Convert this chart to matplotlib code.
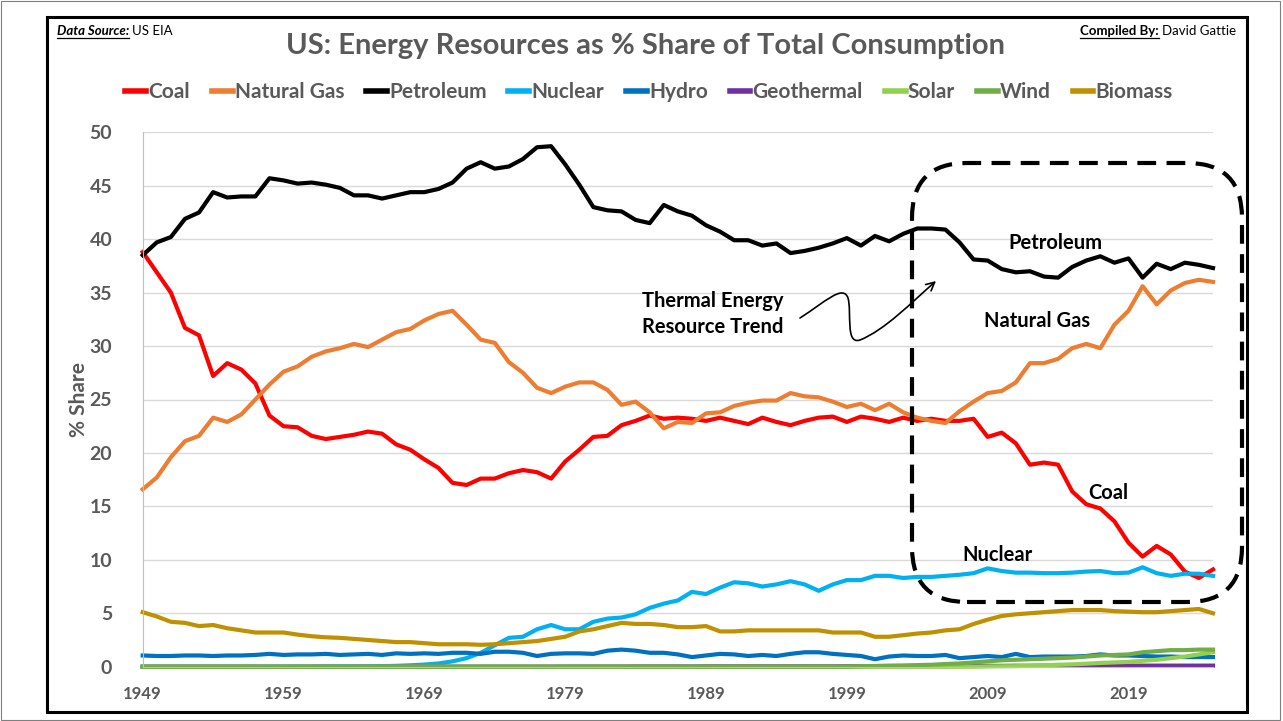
import matplotlib.pyplot as plt
import matplotlib.patches as mpatches
from matplotlib.lines import Line2D
from matplotlib.path import Path
from matplotlib.transforms import IdentityTransform

plt.rcParams['font.family'] = ['Lato', 'DejaVu Sans']

years = list(range(1949, 2026))

coal = [38.8, 36.9, 35.0, 31.7, 31.0, 27.2, 28.4, 27.8, 26.5, 23.5,
        22.5, 22.4, 21.6, 21.3, 21.5, 21.7, 22.0, 21.8, 20.8, 20.3,
        19.4, 18.6, 17.2, 17.0, 17.6, 17.6, 18.1, 18.4, 18.2, 17.6,
        19.2, 20.3, 21.5, 21.6, 22.6, 23.0, 23.5, 23.2, 23.3, 23.2,
        23.0, 23.3, 23.0, 22.7, 23.3, 22.9, 22.6, 23.0, 23.3, 23.4,
        22.9, 23.4, 23.2, 22.9, 23.3, 23.0, 23.2, 23.0, 23.0, 23.2,
        21.5, 21.9, 20.9, 18.9, 19.1, 18.9, 16.4, 15.2, 14.8, 13.6,
        11.6, 10.3, 11.3, 10.5, 8.9, 8.3, 9.1]

natural_gas = [16.6, 17.7, 19.6, 21.1, 21.6, 23.3, 22.9, 23.6, 25.0, 26.4,
               27.6, 28.1, 29.0, 29.5, 29.8, 30.2, 29.9, 30.6, 31.3, 31.6,
               32.4, 33.0, 33.3, 32.0, 30.6, 30.3, 28.5, 27.5, 26.1, 25.6,
               26.2, 26.6, 26.6, 25.9, 24.5, 24.8, 23.8, 22.3, 22.9, 22.8,
               23.7, 23.8, 24.4, 24.7, 24.9, 24.9, 25.6, 25.3, 25.2, 24.8,
               24.3, 24.6, 24.0, 24.6, 23.8, 23.3, 23.0, 22.8, 23.9, 24.8,
               25.6, 25.8, 26.6, 28.4, 28.4, 28.8, 29.8, 30.2, 29.8, 32.0,
               33.3, 35.6, 33.9, 35.2, 35.9, 36.2, 36.0]

petroleum = [38.5, 39.7, 40.2, 41.9, 42.5, 44.4, 43.9, 44.0, 44.0, 45.7,
             45.5, 45.2, 45.3, 45.1, 44.8, 44.1, 44.1, 43.8, 44.1, 44.4,
             44.4, 44.7, 45.3, 46.6, 47.2, 46.6, 46.8, 47.5, 48.6, 48.7,
             47.0, 45.1, 43.0, 42.7, 42.6, 41.8, 41.5, 43.2, 42.6, 42.2,
             41.3, 40.7, 39.9, 39.9, 39.4, 39.6, 38.7, 38.9, 39.2, 39.6,
             40.1, 39.4, 40.3, 39.8, 40.5, 41.0, 41.0, 40.9, 39.7, 38.1,
             38.0, 37.2, 36.9, 37.0, 36.5, 36.4, 37.4, 38.0, 38.4, 37.8,
             38.2, 36.4, 37.7, 37.2, 37.8, 37.6, 37.3]

nuclear = [0.0, 0.0, 0.0, 0.0, 0.0, 0.0, 0.0, 0.0, 0.0, 0.0,
           0.0, 0.01, 0.02, 0.02, 0.03, 0.03, 0.04, 0.05, 0.08, 0.13,
           0.2, 0.3, 0.5, 0.8, 1.3, 2.0, 2.7, 2.8, 3.5, 3.9,
           3.5, 3.5, 4.2, 4.5, 4.6, 4.9, 5.5, 5.9, 6.2, 7.0,
           6.8, 7.4, 7.9, 7.8, 7.5, 7.7, 8.0, 7.7, 7.1, 7.7,
           8.1, 8.1, 8.5, 8.5, 8.3, 8.4, 8.4, 8.5, 8.6, 8.75,
           9.2, 8.95, 8.8, 8.8, 8.75, 8.75, 8.8, 8.9, 8.95, 8.75,
           8.8, 9.3, 8.75, 8.5, 8.7, 8.7, 8.5]

hydro = [1.05, 1.0, 1.0, 1.05, 1.05, 1.0, 1.05, 1.05, 1.1, 1.2,
         1.1, 1.15, 1.15, 1.2, 1.1, 1.15, 1.2, 1.1, 1.25, 1.2,
         1.25, 1.2, 1.3, 1.3, 1.2, 1.4, 1.4, 1.3, 1.0, 1.2,
         1.25, 1.25, 1.2, 1.5, 1.6, 1.5, 1.3, 1.3, 1.15, 0.9,
         1.05, 1.2, 1.15, 1.0, 1.1, 1.0, 1.2, 1.35, 1.35, 1.2,
         1.1, 1.0, 0.7, 0.95, 1.05, 1.0, 1.0, 1.1, 0.8, 0.9,
         1.0, 0.9, 1.2, 0.9, 0.95, 0.95, 0.95, 1.0, 1.15, 1.05,
         1.05, 1.0, 0.95, 0.95, 0.9, 0.9, 0.9]

geothermal = [0.0, 0.0, 0.0, 0.0, 0.0, 0.0, 0.0, 0.0, 0.0, 0.0,
              0.0, 0.0, 0.0, 0.0, 0.0, 0.0, 0.0, 0.0, 0.0, 0.0,
              0.01, 0.01, 0.01, 0.01, 0.01, 0.01, 0.01, 0.01, 0.01, 0.01,
              0.02, 0.02, 0.02, 0.02, 0.02, 0.03, 0.03, 0.03, 0.03, 0.03,
              0.04, 0.04, 0.04, 0.04, 0.04, 0.04, 0.04, 0.04, 0.04, 0.04,
              0.05, 0.05, 0.05, 0.05, 0.05, 0.05, 0.06, 0.06, 0.07, 0.07,
              0.08, 0.08, 0.09, 0.09, 0.1, 0.1, 0.1, 0.1, 0.1, 0.1,
              0.1, 0.1, 0.1, 0.1, 0.1, 0.1, 0.1]

solar = [0.0, 0.0, 0.0, 0.0, 0.0, 0.0, 0.0, 0.0, 0.0, 0.0,
         0.0, 0.0, 0.0, 0.0, 0.0, 0.0, 0.0, 0.0, 0.0, 0.0,
         0.0, 0.0, 0.0, 0.0, 0.0, 0.0, 0.0, 0.0, 0.0, 0.0,
         0.0, 0.0, 0.0, 0.0, 0.0, 0.0, 0.0, 0.0, 0.0, 0.0,
         0.0, 0.0, 0.0, 0.0, 0.0, 0.0, 0.0, 0.0, 0.0, 0.0,
         0.0, 0.0, 0.0, 0.0, 0.0, 0.0, 0.0, 0.0, 0.0, 0.0,
         0.03, 0.04, 0.05, 0.08, 0.12, 0.18, 0.22, 0.28, 0.35, 0.4,
         0.45, 0.55, 0.65, 0.8, 0.95, 1.15, 1.35]

wind = [0.0, 0.0, 0.0, 0.0, 0.0, 0.0, 0.0, 0.0, 0.0, 0.0,
        0.0, 0.0, 0.0, 0.0, 0.0, 0.0, 0.0, 0.0, 0.0, 0.0,
        0.0, 0.0, 0.0, 0.0, 0.0, 0.0, 0.0, 0.0, 0.0, 0.0,
        0.0, 0.0, 0.0, 0.0, 0.0, 0.0, 0.0, 0.0, 0.0, 0.0,
        0.0, 0.0, 0.0, 0.0, 0.0, 0.0, 0.0, 0.0, 0.0, 0.0,
        0.0, 0.05, 0.07, 0.1, 0.12, 0.15, 0.18, 0.25, 0.3, 0.4,
        0.5, 0.6, 0.65, 0.7, 0.75, 0.8, 0.85, 0.95, 1.05, 1.1,
        1.15, 1.35, 1.45, 1.55, 1.55, 1.6, 1.6]

biomass = [5.1, 4.7, 4.2, 4.1, 3.8, 3.9, 3.6, 3.4, 3.2, 3.2,
           3.2, 3.0, 2.85, 2.75, 2.7, 2.6, 2.5, 2.4, 2.3, 2.3,
           2.2, 2.1, 2.1, 2.1, 2.05, 2.1, 2.2, 2.3, 2.4, 2.6,
           2.8, 3.3, 3.5, 3.8, 4.1, 4.0, 4.0, 3.9, 3.7, 3.7,
           3.8, 3.3, 3.3, 3.4, 3.4, 3.4, 3.4, 3.4, 3.4, 3.2,
           3.2, 3.2, 2.8, 2.8, 2.95, 3.1, 3.2, 3.4, 3.5, 4.0,
           4.4, 4.75, 4.9, 5.0, 5.1, 5.2, 5.3, 5.3, 5.3, 5.2,
           5.15, 5.1, 5.1, 5.2, 5.3, 5.4, 5.0]

names = ['Coal', 'Natural Gas', 'Petroleum', 'Nuclear', 'Hydro',
         'Geothermal', 'Solar', 'Wind', 'Biomass']
colors = ['#FF0000', '#ED7D31', '#000000', '#00B0F0', '#0070C0',
          '#7030A0', '#92D050', '#70AD47', '#BF9000']
values = [coal, natural_gas, petroleum, nuclear, hydro,
          geothermal, solar, wind, biomass]

W, H = 1283, 721
GRAY = '#595959'


def P(x, y):
    # image pixel -> figure fraction
    return x / W, 1 - y / H


fig = plt.figure(figsize=(W / 100, H / 100), dpi=100)
ax = fig.add_axes([142.7 / W, 1 - 666.7 / H, (1213 - 142.7) / W, (666.7 - 132.3) / H])

for name, vals, col in zip(names, values, colors):
    ax.plot(years, vals, color=col, lw=3, label=name, clip_on=False)

ax.set_xlim(1949, 2025)
ax.set_ylim(0, 50)
ax.set_yticks(range(0, 51, 5))
ax.set_xticks(range(1949, 2020, 10))
ax.grid(axis='y', color='#D9D9D9', lw=1)
ax.set_axisbelow(True)
for s in ['top', 'right']:
    ax.spines[s].set_visible(False)
ax.spines['left'].set_color('#BFBFBF')
ax.spines['bottom'].set_color('#BFBFBF')
ax.tick_params(axis='y', length=0, pad=22, labelsize=14, labelcolor=GRAY)
ax.tick_params(axis='x', length=0, pad=14, labelsize=12, labelcolor=GRAY)
for lab in ax.get_xticklabels() + ax.get_yticklabels():
    lab.set_fontweight('bold')
ax.set_ylabel('% Share', fontsize=15, fontweight='bold', color=GRAY, labelpad=0)

# title and legend
fig.text(*P(645, 46), 'US: Energy Resources as % Share of Total Consumption',
         ha='center', va='center', fontsize=21, fontweight='bold', color=GRAY)
leg = fig.legend(loc='center', bbox_to_anchor=P(649, 92), ncol=9, frameon=False,
                 handlelength=1.0, handletextpad=0.1, columnspacing=1.05,
                 prop=dict(size=15, weight='bold'), labelcolor=GRAY)
for h in leg.legend_handles:
    h.set_linewidth(4)

# line labels
lab_kw = dict(ha='center', va='center', fontsize=14.5, fontweight='bold', color='black')
fig.text(*P(1055, 243), 'Petroleum', **lab_kw)
fig.text(*P(1037, 321), 'Natural Gas', **lab_kw)
fig.text(*P(1108, 493), 'Coal', **lab_kw)
fig.text(*P(997, 555), 'Nuclear', **lab_kw)
fig.text(*P(713, 314), 'Thermal Energy\nResource Trend', linespacing=1.35, **lab_kw)

# dashed rounded box
box = mpatches.FancyBboxPatch((912, H - 602), 1242 - 912, 602 - 163,
                              boxstyle='round,pad=0,rounding_size=55',
                              transform=IdentityTransform(), fill=False,
                              ec='black', lw=3, ls=(0, (4.5, 2.5)))
fig.patches.append(box)


# squiggly arrow
def D(x, y):
    return (x, H - y)


verts = [D(800, 318), D(825, 302), D(843, 284), D(848, 298),
         D(852, 312), D(845, 345), D(860, 340),
         D(885, 330), D(912, 302), D(936, 281)]
codes = [Path.MOVETO] + [Path.CURVE4] * 9
arrow = mpatches.FancyArrowPatch(path=Path(verts, codes), arrowstyle='->,head_length=6,head_width=3',
                                 transform=IdentityTransform(), color='black', lw=1.2)
fig.patches.append(arrow)

# frames
fig.patches.append(mpatches.Rectangle(P(47, 712), (1247 - 47) / W, (712 - 17) / H,
                                      transform=fig.transFigure, fill=False,
                                      ec='black', lw=2.2))
fig.patches.append(mpatches.Rectangle((0.001, 0.002), 0.997, 0.996,
                                      transform=fig.transFigure, fill=False,
                                      ec='#7F7F7F', lw=0.8))

# source / compiled texts with underline
fig.canvas.draw()
r = fig.canvas.get_renderer()
t1 = fig.text(*P(57, 31), 'Data Source:', ha='left', va='center', fontsize=9.5,
              fontweight='bold', fontstyle='italic', color='black')
bb = t1.get_window_extent(r)
fig.text((bb.x1 + 3) / W, bb.y0 / H + 0.0005, 'US EIA', ha='left', va='bottom', fontsize=9.5,
         color='black')
fig.lines.append(Line2D([bb.x0, bb.x1], [bb.y0 - 1, bb.y0 - 1], transform=IdentityTransform(),
                        color='black', lw=0.9))

t2 = fig.text(*P(1236, 31), 'David Gattie', ha='right', va='center', fontsize=9.5,
              color='black')
bb2 = t2.get_window_extent(r)
t3 = fig.text((bb2.x0 - 3) / W, bb2.y0 / H, 'Compiled By:', ha='right', va='bottom',
              fontsize=9.5, fontweight='bold', color='black')
bb3 = t3.get_window_extent(r)
fig.lines.append(Line2D([bb3.x0, bb3.x1], [bb3.y0 - 1, bb3.y0 - 1], transform=IdentityTransform(),
                        color='black', lw=0.9))

fig.savefig('out.png', dpi=100)
